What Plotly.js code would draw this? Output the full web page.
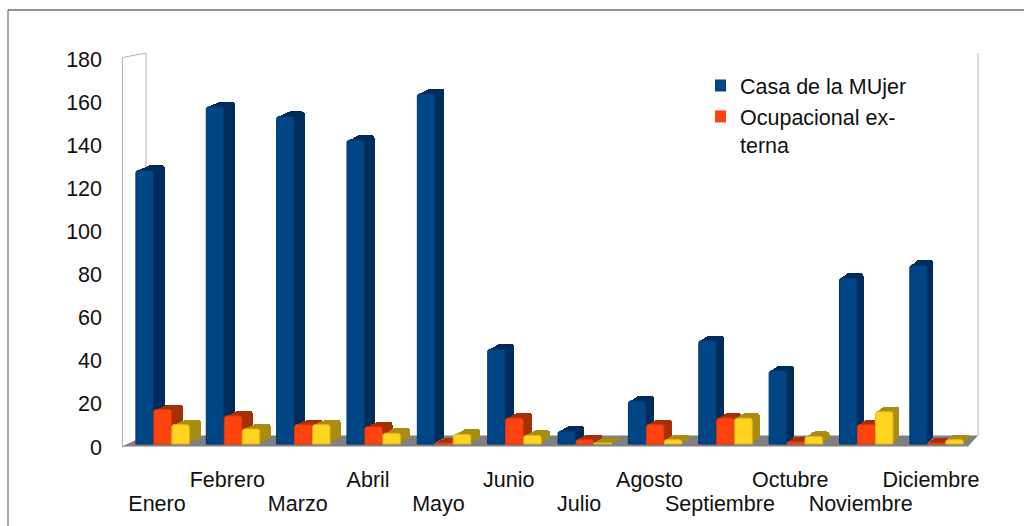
<!DOCTYPE html>
<html>
<head>
<meta charset="utf-8">
<script src="https://cdn.plot.ly/plotly-3.0.1.min.js"></script>
<style>html,body{margin:0;padding:0;background:#fff}#chart{width:1024px;height:526px}</style>
</head>
<body>
<div id="chart"></div>
<script>
var months = ["Enero","Febrero","Marzo","Abril","Mayo","Junio","Julio","Agosto","Septiembre","Octubre","Noviembre","Diciembre"];
var casaMujer = [127,156.5,152,141,162.5,44,6,20,48,34,77,83];
var ocupacional = [16,13,9,8,0.5,12,2,9,12,1,9,0.5];
var tercera = [9,7,9,5,4.5,4,0.5,2,12,3.5,15,2];
var yTicks = [0,20,40,60,80,100,120,140,160,180];
var nameCasa = "Casa de la MUjer";
var nameOcup = "Ocupacional ex-<br>terna";

var FONT = "Liberation Sans, Arial, sans-serif";
var PXX = 70.36, PXY = 2.155, X0 = 157, Y0 = 444;
var L = 121, R = 981, T = 52, B = 448;
function X(px){return (px - X0) / PXX;}
function Y(py){return (Y0 - py) / PXY;}
var idx = months.map(function(_, i){return i;});
var BW = 0.25, LAYERS = 6, RADIUS = 3;

var series = [
  {vals: casaMujer, off: -0.30, front: "#004586", edge: "#003566", side: "#002c5c", name: nameCasa, legend: true},
  {vals: ocupacional, off: -0.045, front: "#ff420e", edge: "#dc380b", side: "#a63006", name: nameOcup, legend: true},
  {vals: tercera, off: 0.21, front: "#ffd320", edge: "#dcb418", side: "#a88d12", name: "Tercera serie", legend: false}
];
var traces = [];
series.forEach(function(s){
  for (var k = LAYERS; k >= 1; k--) {
    var f = k / LAYERS;
    traces.push({
      type: "bar", x: idx, y: s.vals, width: BW,
      base: idx.map(function(){return 5 * f / PXY;}),
      offset: idx.map(function(i){return s.off + (11.5 - 5.5 * i / 11) * f / PXX;}),
      marker: {color: s.side, line: {width: 0}, cornerradius: RADIUS},
      showlegend: false, hoverinfo: "skip"
    });
  }
  traces.push({
    type: "bar", x: idx, y: s.vals, width: BW, offset: s.off, name: s.name,
    marker: {color: s.front, line: {color: s.edge, width: 1}, cornerradius: RADIUS},
    showlegend: false
  });
  if (s.legend) {
    traces.push({
      type: "bar", x: idx, y: s.vals, width: 0.001, offset: s.off + BW / 2, name: s.name,
      marker: {color: s.front, line: {width: 0}}, showlegend: true, hoverinfo: "skip"
    });
  }
});
traces.push({type: "scatter", mode: "none", x: idx, y: idx.map(function(){return 0;}), xaxis: "x2", showlegend: false, hoverinfo: "skip"});

var wall = {color: "#b3b3b3", width: 1};
function pathShape(p, fill, line){
  return {type: "path", xref: "x", yref: "y", layer: "below", path: p, fillcolor: fill, line: line || {width: 0}};
}
function pt(a, b){return X(a) + "," + Y(b);}
var shapes = [
  pathShape("M" + pt(122.5,447) + "L" + pt(122.5,57.5) + "L" + pt(146,53) + "L" + pt(146,436) + "Z", "rgba(255,255,255,0)", wall),
  pathShape("M" + pt(978,53) + "L" + pt(978,436), "rgba(0,0,0,0)", wall),
  pathShape("M" + pt(122,446.5) + "L" + pt(146,435.5) + "L" + pt(978,435.5) + "L" + pt(968,446.5) + "Z", "#808080"),
  {type: "line", xref: "paper", yref: "paper", layer: "below",
    x0: (8 - L) / (R - L), x1: (1024 - L) / (R - L), y0: (B - 10) / (B - T), y1: (B - 10) / (B - T), line: {color: "#6e6e6e", width: 1.5}},
  {type: "line", xref: "paper", yref: "paper", layer: "below",
    x0: (8 - L) / (R - L), x1: (8 - L) / (R - L), y0: (B - 10) / (B - T), y1: (B - 526) / (B - T), line: {color: "#555555", width: 1}}
];

var tickFont = {family: FONT, size: 21.5, color: "#111111"};
function pick(arr, r){return arr.filter(function(_, i){return i % 2 === r;});}
var layout = {
  width: 1024, height: 526, autosize: false,
  margin: {l: L, r: 1024 - R, t: T, b: 526 - B, pad: 0},
  paper_bgcolor: "#ffffff", plot_bgcolor: "rgba(0,0,0,0)",
  barmode: "overlay", bargap: 0,
  shapes: shapes,
  font: {family: FONT, color: "#111111"},
  xaxis: {
    range: [X(L), X(R)], tickmode: "array", tickvals: pick(idx, 1), ticktext: pick(months, 1),
    showgrid: false, zeroline: false, showline: false, ticks: "", tickangle: 0, tickfont: tickFont,
    ticklabelstandoff: 16, fixedrange: true
  },
  xaxis2: {
    overlaying: "x", matches: "x", anchor: "y", side: "bottom",
    range: [X(L), X(R)], tickmode: "array", tickvals: pick(idx, 0), ticktext: pick(months, 0),
    showgrid: false, zeroline: false, showline: false, ticks: "", tickangle: 0, tickfont: tickFont,
    ticklabelstandoff: 40, fixedrange: true
  },
  yaxis: {
    range: [Y(B), Y(T)], tickmode: "array", tickvals: yTicks, ticktext: yTicks.map(String),
    showgrid: false, zeroline: false, showline: false, ticks: "", tickfont: tickFont,
    ticklabelstandoff: 18, ticklabelshift: 3, fixedrange: true
  },
  legend: {
    x: (715 - L) / (R - L), y: (B - 65) / (B - T), xanchor: "left", yanchor: "top",
    bgcolor: "rgba(0,0,0,0)", borderwidth: 0, font: {family: FONT, size: 21.5, color: "#111111"},
    traceorder: "normal", itemwidth: 30, indentation: -15, valign: "top"
  },
  hovermode: false
};
Plotly.newPlot("chart", traces, layout, {displayModeBar: false, staticPlot: true});
</script>
</body>
</html>
